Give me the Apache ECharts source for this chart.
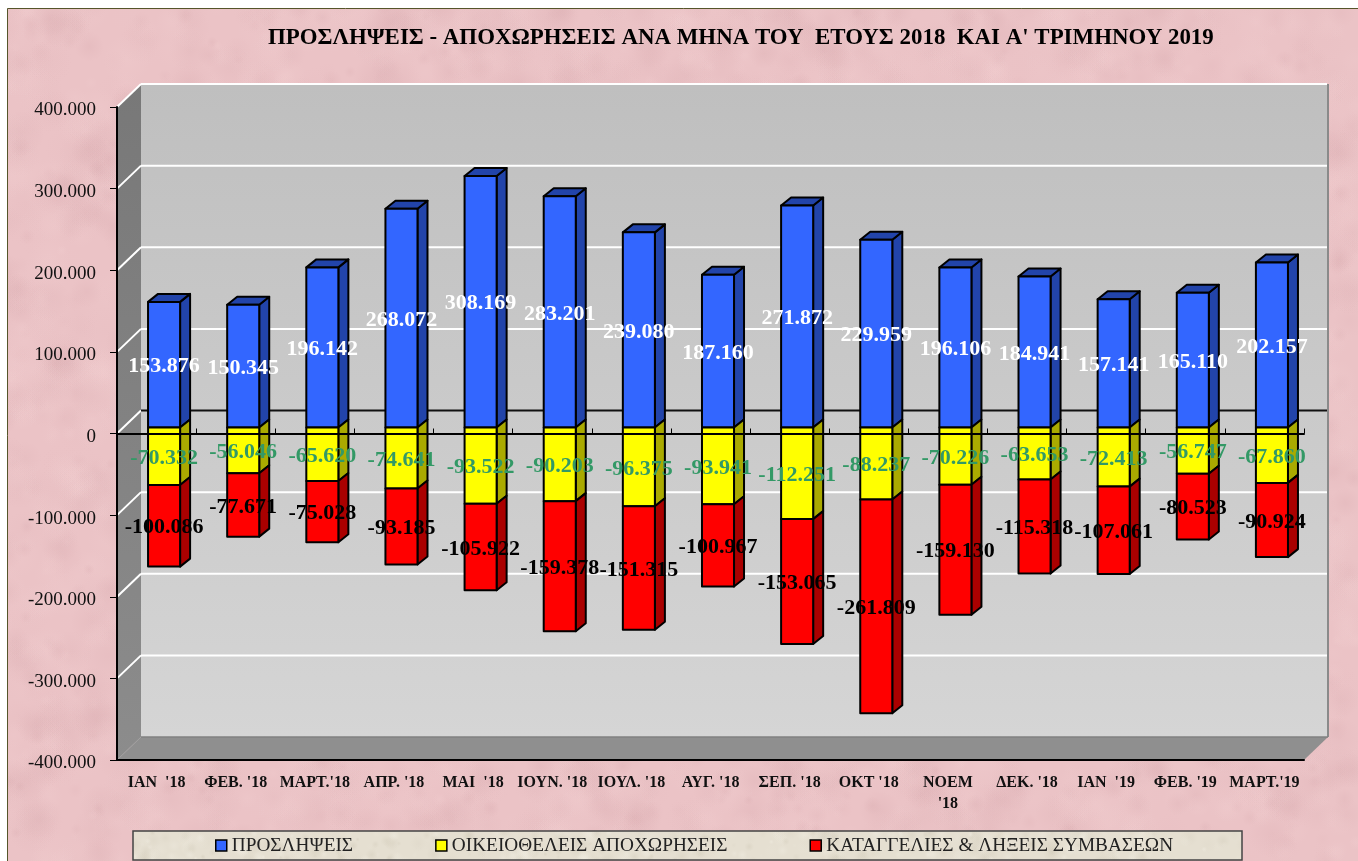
<!DOCTYPE html>
<html><head><meta charset="utf-8">
<style>html,body{margin:0;padding:0;background:#fff}#c{width:1358px;height:861px}</style>
<script src="https://cdn.jsdelivr.net/npm/echarts@6/dist/echarts.min.js"></script>
</head><body><div id="c"></div>
<script>
const titleText = "ΠΡΟΣΛΗΨΕΙΣ - ΑΠΟΧΩΡΗΣΕΙΣ ΑΝΑ ΜΗΝΑ ΤΟΥ  ΕΤΟΥΣ 2018  ΚΑΙ Α' ΤΡΙΜΗΝΟΥ 2019";
const categories = ["ΙΑΝ  '18","ΦΕΒ. '18","ΜΑΡΤ.'18","ΑΠΡ. '18","ΜΑΙ  '18","ΙΟΥΝ. '18","ΙΟΥΛ. '18","ΑΥΓ. '18","ΣΕΠ. '18","ΟΚΤ '18","ΝΟΕΜ\n'18","ΔΕΚ. '18","ΙΑΝ  '19","ΦΕΒ. '19","ΜΑΡΤ.'19"];
const hires   = [153876,150345,196142,268072,308169,283201,239080,187160,271872,229959,196106,184941,157141,165110,202157];
const quits   = [-70332,-56046,-65620,-74641,-93522,-90203,-96375,-93941,-112251,-88237,-70226,-63653,-72413,-56747,-67860];
const layoffs = [-100086,-77671,-75028,-93185,-105922,-159378,-151315,-100967,-153065,-261809,-159130,-115318,-107061,-80523,-90924];
const gridValues = [400000,300000,200000,100000,0,-100000,-200000,-300000,-400000];
const seriesNames = ["ΠΡΟΣΛΗΨΕΙΣ","ΟΙΚΕΙΟΘΕΛΕΙΣ ΑΠΟΧΩΡΗΣΕΙΣ","ΚΑΤΑΓΓΕΛΙΕΣ & ΛΗΞΕΙΣ ΣΥΜΒΑΣΕΩΝ"];

const SERIF = '"Liberation Serif","Times New Roman",serif';
const DX = 24, DY = -23;          // wall depth
const BX = 7.5, BY = -6;          // bar front-plane offset
const SX = 10, SY = -8;           // bar depth
const fmt = v => String(v).replace(/\B(?=(\d{3})+(?!\d))/g, '.');

function texture(w, h, base, dark, light, count, rMin, rMax, alpha) {
  const c = document.createElement('canvas'); c.width = w; c.height = h;
  const g = c.getContext('2d');
  g.fillStyle = base; g.fillRect(0,0,w,h);
  let s = 12345;
  const rnd = () => (s = (s * 1664525 + 1013904223) >>> 0) / 4294967296;
  for (let i = 0; i < count; i++) {
    const x = rnd()*w, y = rnd()*h, r = rMin + rnd()*(rMax-rMin), a = rnd()*alpha;
    const col = rnd() < 0.55 ? dark : light;
    const gr = g.createRadialGradient(x,y,0,x,y,r);
    gr.addColorStop(0, `rgba(${col},${a})`); gr.addColorStop(1, `rgba(${col},0)`);
    g.fillStyle = gr; g.fillRect(x-r,y-r,2*r,2*r);
  }
  return c;
}
const pinkTex = texture(1358, 861, '#ebc3c6', '208,160,165', '245,212,213', 5000, 5, 26, 0.2);
const beigeTex = texture(1120, 32, '#e5dfd1', '205,198,180', '245,242,232', 500, 2, 9, 0.4);

function wallsRender(params, api) {
  const sys = params.coordSys;
  const L = sys.x, R = sys.x + sys.width;
  const T = api.coord([0, 400000])[1], B = api.coord([0, -400000])[1];
  const kids = [
    {type:'rect', shape:{x:L+DX,y:T+DY,width:R-L,height:B-T},
     style:{fill:{type:'linear',x:0,y:0,x2:0,y2:1,colorStops:[{offset:0,color:'#bfbfbf'},{offset:1,color:'#d5d5d5'}]}}},
    {type:'polygon', shape:{points:[[L,T],[L+DX,T+DY],[L+DX,B+DY],[L,B]]},
     style:{fill:{type:'linear',x:0,y:0,x2:0,y2:1,colorStops:[{offset:0,color:'#787878'},{offset:1,color:'#8c8c8c'}]}}},
    {type:'polygon', shape:{points:[[L,B],[L+DX,B+DY],[R+DX,B+DY],[R,B]]}, style:{fill:'#8f8f8f'}},
    {type:'line', shape:{x1:R+DX,y1:T+DY,x2:R+DX,y2:B+DY}, style:{stroke:'#8a8a8a',lineWidth:2}},
    {type:'line', shape:{x1:L+DX,y1:B+DY,x2:R+DX,y2:B+DY}, style:{stroke:'#808080',lineWidth:1.5}},
    {type:'line', shape:{x1:L,y1:B,x2:L+DX,y2:B+DY}, style:{stroke:'#a0a0a0',lineWidth:1}}
  ];
  gridValues.forEach(v => {
    if (v === -400000) return;
    const y = api.coord([0, v])[1];
    kids.push({type:'line', shape:{x1:L,y1:y,x2:L+DX,y2:y+DY}, style:{stroke:'#fff',lineWidth:2}});
    kids.push({type:'line', shape:{x1:L+DX,y1:y+DY,x2:R+DX-1,y2:y+DY}, style:{stroke:v===0?'#111':'#fff',lineWidth:2}});
  });
  return {type:'group', children:kids};
}

function barRender(front, side, withTop) {
  return function (params, api) {
    const base = api.value(2), end = base + api.value(1);
    const p0 = api.coord([api.value(0), base]);
    const p1 = api.coord([api.value(0), end]);
    const w = api.size([1, 0])[0] * 0.405;
    const x0 = p0[0] + BX - w/2, x1 = x0 + w;
    const ya = p0[1] + BY, yb = p1[1] + BY;
    const top = Math.min(ya, yb), bot = Math.max(ya, yb);
    const line = {stroke:'#000', lineWidth:2, lineJoin:'round'};
    const kids = [
      {type:'polygon', shape:{points:[[x1,top],[x1+SX,top+SY],[x1+SX,bot+SY],[x1,bot]]}, style:{fill:side, ...line}}
    ];
    if (withTop) kids.push({type:'polygon', shape:{points:[[x0,top],[x0+SX,top+SY],[x1+SX,top+SY],[x1,top]]}, style:{fill:side, ...line}});
    kids.push({type:'rect', shape:{x:x0,y:top,width:w,height:bot-top}, style:{fill:front, ...line}});
    return {type:'group', children:kids};
  };
}
function labelRender(color) {
  return function (params, api) {
    const p = api.coord([api.value(0), api.value(2) + api.value(1) / 2]);
    return {type:'text', x:p[0]+BX, y:p[1]+BY+2,
      style:{text:fmt(api.value(1)), fill:color, font:'bold 22px '+SERIF, align:'center', verticalAlign:'middle'}};
  };
}
const rows = (vals, base) => vals.map((v,i) => [i, v, base ? base[i] : 0]);
const hireRows = rows(hires), quitRows = rows(quits), layRows = rows(layoffs, quits);
const customBase = {type:'custom', coordinateSystem:'cartesian2d', clip:false, encode:{x:0,y:1}, silent:true};
const legendFont = {fontFamily:SERIF, fontSize:19.3, color:'#222'};

const chart = echarts.init(document.getElementById('c'), null, {renderer:'canvas'});
chart.setOption({
  animation:false,
  backgroundColor:'#fff',
  graphic:[
    {type:'rect', z:0, shape:{x:7.5,y:8.5,width:1360,height:860}, style:{fill:{image:pinkTex,repeat:'repeat'}, stroke:'#55552a', lineWidth:1}},
    {type:'rect', z:0, shape:{x:133,y:831,width:1109,height:29}, style:{fill:{image:beigeTex,repeat:'repeat'}, stroke:'#444', lineWidth:1.5}}
  ],
  title:{text:titleText, left:263, top:22, textStyle:{fontFamily:SERIF, fontWeight:'bold', fontSize:22.9, color:'#000'}},
  legend:{
    data:[
      {name:seriesNames[0], itemStyle:{color:'#3366ff',borderColor:'#000',borderWidth:1.5}, textStyle:{...legendFont, width:125, overflow:'none'}},
      {name:seriesNames[1], itemStyle:{color:'#ffff00',borderColor:'#000',borderWidth:1.5}, textStyle:{...legendFont, width:273, overflow:'none'}},
      {name:seriesNames[2], itemStyle:{color:'#ff0000',borderColor:'#000',borderWidth:1.5}, textStyle:{...legendFont}}
    ],
    icon:'rect', left:215, top:836, itemWidth:11, itemHeight:11, itemGap:82, padding:0,
    textStyle:legendFont, selectedMode:false
  },
  grid:{left:117, right:54, top:107, bottom:101},
  xAxis:[
    {type:'category', data:categories, position:'bottom', z:6,
     axisLine:{onZero:false, lineStyle:{color:'#000',width:2}}, axisTick:{show:false},
     axisLabel:{interval:0, margin:12, fontFamily:SERIF, fontWeight:'bold', fontSize:16, color:'#111', lineHeight:21}},
    {type:'category', data:categories, z:6,
     axisLine:{onZero:true, lineStyle:{color:'#000',width:2}}, axisTick:{show:true, alignWithLabel:false, length:5, inside:false, lineStyle:{color:'#000',width:1}},
     axisLabel:{show:false}}
  ],
  yAxis:{type:'value', min:-400000, max:400000, interval:100000, z:6,
    axisLine:{show:true, onZero:false, lineStyle:{color:'#000',width:2}},
    axisTick:{show:true, length:7, lineStyle:{color:'#000',width:1}},
    splitLine:{show:false},
    axisLabel:{margin:21, verticalAlign:'top', lineHeight:7, fontFamily:SERIF, fontSize:19, color:'#111', formatter:fmt}},
  series:[
    {...customBase, name:'walls', z:1, data:[[0,0,0]], renderItem:wallsRender},
    {...customBase, name:seriesNames[0], z:2, itemStyle:{color:'#3366ff'}, data:hireRows, renderItem:barRender('#3366ff','#2244aa',true)},
    {...customBase, name:seriesNames[1], z:2, itemStyle:{color:'#ffff00'}, data:quitRows, renderItem:barRender('#ffff00','#aaaa00',false)},
    {...customBase, name:seriesNames[2], z:2, itemStyle:{color:'#ff0000'}, data:layRows, renderItem:barRender('#ff0000','#aa0000',false)},
    {...customBase, name:'hires-labels', z:8, data:hireRows, renderItem:labelRender('#fff')},
    {...customBase, name:'quits-labels', z:8, data:quitRows, renderItem:labelRender('#339966')},
    {...customBase, name:'layoffs-labels', z:8, data:layRows, renderItem:labelRender('#000')}
  ]
});
</script></body></html>
